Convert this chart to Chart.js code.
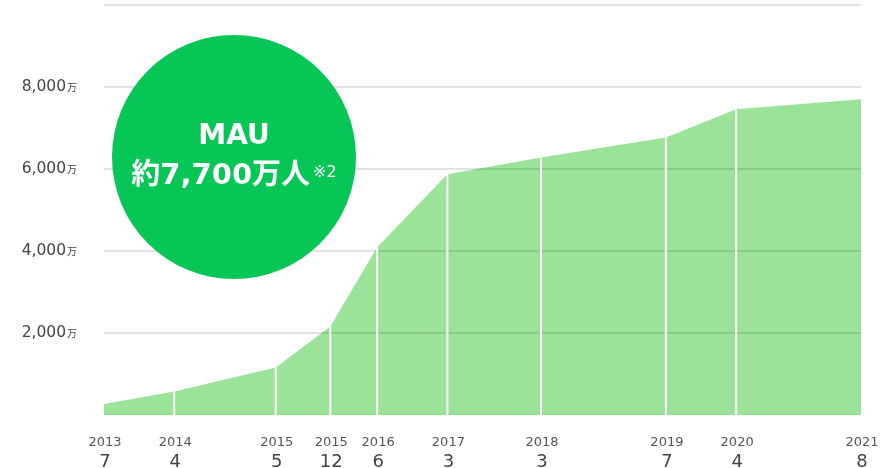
<!DOCTYPE html>
<html>
<head>
<meta charset="utf-8">
<script src="https://cdn.jsdelivr.net/npm/chart.js@4/dist/chart.umd.min.js"></script>
<style>
  html, body { margin: 0; padding: 0; background: #ffffff; }
  #wrap { width: 894px; height: 468px; position: relative; }
  canvas { display: block; }
</style>
</head>
<body>
<div id="wrap"><canvas id="mauChart" width="894" height="468"></canvas></div>
<script>
// Survey periods (year / month) and monthly active users, in units of 万人
const periodYears  = ['2013', '2014', '2015', '2015', '2016', '2017', '2018', '2019', '2020', '2021'];
const periodMonths = ['7', '4', '5', '12', '6', '3', '3', '7', '4', '8'];
const mauValues    = [270, 575, 1160, 2160, 4090, 5870, 6280, 6770, 7460, 7700];

// Value axis ticks
const yTickValues = [2000, 4000, 6000, 8000];
const yTickLabels = ['2,000', '4,000', '6,000', '8,000'];
const yUnit = '万';

// Badge text
const badgeTitle = 'MAU';
const badgeValue = '約7,700万人';
const badgeNote  = '※2';

const FONT = '"DejaVu Sans", Verdana, "Noto Sans CJK JP", sans-serif';
const AREA_GREEN = '#9be399';
const BADGE_GREEN = '#06c755';

// Months elapsed since the first survey, so the x axis is proportional to time
const startYear = Number(periodYears[0]);
const startMonth = Number(periodMonths[0]);
const monthOffsets = periodYears.map((y, i) => (Number(y) - startYear) * 12 + Number(periodMonths[i]) - startMonth);
const points = monthOffsets.map((x, i) => ({ x: x, y: mauValues[i] }));

const overlayPlugin = {
  id: 'mauOverlay',
  afterDraw(chart) {
    const ctx = chart.ctx;
    const area = chart.chartArea;
    const xs = chart.scales.x;
    const ys = chart.scales.y;
    const meta = chart.getDatasetMeta(0);

    ctx.save();

    // white separators under each intermediate survey point
    ctx.strokeStyle = '#ffffff';
    ctx.lineWidth = 2;
    meta.data.forEach((pt, i) => {
      if (i === 0 || i === meta.data.length - 1) return;
      ctx.beginPath();
      ctx.moveTo(pt.x, pt.y);
      ctx.lineTo(pt.x, area.bottom);
      ctx.stroke();
    });

    // value axis labels with small unit
    ctx.fillStyle = '#444444';
    yTickValues.forEach((v, i) => {
      const y = ys.getPixelForValue(v);
      ctx.font = '15.5px ' + FONT;
      ctx.textAlign = 'right';
      ctx.textBaseline = 'alphabetic';
      ctx.fillText(yTickLabels[i], 66, y + 4);
      ctx.font = '10px ' + FONT;
      ctx.textAlign = 'left';
      ctx.fillText(yUnit, 67, y + 4);
    });

    // time axis labels: year above, month below
    ctx.textAlign = 'center';
    ctx.textBaseline = 'alphabetic';
    monthOffsets.forEach((m, i) => {
      const x = xs.getPixelForValue(m) + 1;
      ctx.fillStyle = '#555555';
      ctx.font = '13px ' + FONT;
      ctx.fillText(periodYears[i], x, 446);
      ctx.fillStyle = '#444444';
      ctx.font = '18px ' + FONT;
      ctx.fillText(periodMonths[i], x, 467);
    });

    // badge
    const cx = 234, cy = 157, r = 122;
    ctx.fillStyle = BADGE_GREEN;
    ctx.beginPath();
    ctx.arc(cx, cy, r, 0, Math.PI * 2);
    ctx.fill();

    ctx.fillStyle = '#ffffff';
    ctx.font = 'bold 28px ' + FONT;
    ctx.textAlign = 'center';
    ctx.fillText(badgeTitle, cx, 144);

    ctx.font = 'bold 29px ' + FONT;
    const wMain = ctx.measureText(badgeValue).width;
    ctx.font = '16px ' + FONT;
    const wNote = ctx.measureText(badgeNote).width;
    const gap = 3;
    const left = cx - (wMain + gap + wNote) / 2;
    ctx.textAlign = 'left';
    ctx.font = 'bold 29px ' + FONT;
    ctx.fillText(badgeValue, left, 184);
    ctx.font = '16px ' + FONT;
    ctx.fillText(badgeNote, left + wMain + gap, 177);

    ctx.restore();
  }
};

new Chart(document.getElementById('mauChart'), {
  type: 'line',
  data: {
    datasets: [{
      data: points,
      fill: 'origin',
      backgroundColor: AREA_GREEN,
      borderWidth: 0,
      pointRadius: 0,
      pointHoverRadius: 0,
      tension: 0
    }]
  },
  options: {
    responsive: false,
    animation: false,
    devicePixelRatio: 1,
    events: [],
    layout: { padding: { left: 104, right: 33, top: 5, bottom: 53 } },
    plugins: { legend: { display: false }, tooltip: { enabled: false } },
    scales: {
      x: {
        type: 'linear',
        display: false,
        min: 0,
        max: monthOffsets[monthOffsets.length - 1]
      },
      y: {
        type: 'linear',
        min: 0,
        max: 10000,
        border: { display: false },
        ticks: { display: false, stepSize: 2000 },
        grid: {
          z: 1,
          drawTicks: false,
          lineWidth: 2,
          color: (c) => (c.tick && c.tick.value === 0) ? 'rgba(0,0,0,0.03)' : 'rgba(0,0,0,0.11)'
        }
      }
    }
  },
  plugins: [overlayPlugin]
});
</script>
</body>
</html>
